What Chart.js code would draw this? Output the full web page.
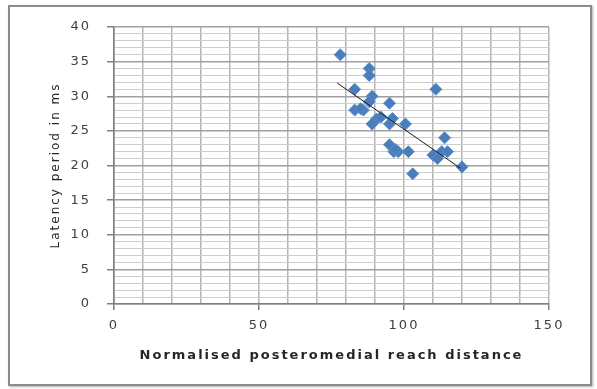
<!DOCTYPE html>
<html>
<head>
<meta charset="utf-8">
<script src="https://cdn.jsdelivr.net/npm/chart.js@4"></script>
<style>
    body { margin: 0; background: #ffffff; }
    #wrap { position: relative; width: 597px; height: 389px; }
    #frame {
        position: absolute; left: 8px; top: 5px; width: 580px; height: 377px;
        border: 2px solid #8c8c8c; box-shadow: 1px 1px 2px #b0b0b0; pointer-events: none;
    }
    canvas { position: absolute; left: 0; top: 0; }
</style>
</head>
<body>
<div id="wrap">
    <canvas id="latency_chart" width="597" height="389"></canvas>
    <div id="frame"></div>
</div>
<script>
// reach distance (x) and latency period in ms (y)
const reach = [78, 88, 88, 83, 111, 89, 88, 95, 83, 86, 90.5, 96, 89, 95, 100.5, 95, 96.5, 98, 101.5, 114, 113, 110, 111.5, 115, 120, 103, 92, 97, 85];
const latency = [36, 34, 33, 31, 31, 30, 29.2, 29, 28, 28, 26.7, 26.8, 26, 26, 26, 23, 22, 22, 22, 24, 22, 21.5, 21, 22, 19.8, 18.8, 27, 22.3, 28.2];

// trend line end points
const trend_x = [77, 119.5];
const trend_y = [31.9, 19.6];

const X_TICKS = [0, 50, 100, 150];
const Y_MAX = 40;

var points = [];
for (var i = 0; i < reach.length; i++) {
    points.push({ x: reach[i], y: latency[i] });
}
var trend_points = [];
for (var i = 0; i < trend_x.length; i++) {
    trend_points.push({ x: trend_x[i], y: trend_y[i] });
}

const tick_font = { family: 'DejaVu Sans', size: 13 };

// the original text is drawn wide, so space the letters out a little
const wide_text = {
    id: 'wide_text',
    beforeDraw: function (chart) { chart.ctx.letterSpacing = '2px'; },
    afterDraw: function (chart) { chart.ctx.letterSpacing = '0px'; }
};

new Chart(document.getElementById('latency_chart'), {
    type: 'scatter',
    data: {
        datasets: [{
            label: 'Latency',
            data: points,
            pointStyle: 'rectRot',
            pointRadius: 6,
            backgroundColor: '#4a7ebb',
            borderColor: '#5b8cc8',
            borderWidth: 1,
            order: 2
        }, {
            label: 'Trend',
            type: 'line',
            data: trend_points,
            borderColor: '#1a1a1a',
            borderWidth: 1,
            pointRadius: 0,
            order: 1
        }]
    },
    plugins: [wide_text],
    options: {
        responsive: false,
        animation: false,
        layout: { padding: { left: 48, top: 27, right: 48, bottom: 24 } },
        plugins: { legend: { display: false }, tooltip: { enabled: false } },
        scales: {
            x: {
                type: 'linear',
                min: 0,
                max: 150,
                ticks: {
                    stepSize: 10,
                    autoSkip: false,
                    maxRotation: 0,
                    color: '#404040',
                    font: tick_font,
                    padding: 8,
                    callback: function (v) { return X_TICKS.indexOf(v) >= 0 ? v : ''; }
                },
                grid: {
                    color: function (c) { return c.tick && c.tick.value === 0 ? '#808080' : '#b4b4b4'; },
                    lineWidth: 1.5,
                    tickLength: 6,
                    tickColor: function (c) { return c.tick && X_TICKS.indexOf(c.tick.value) >= 0 ? '#808080' : 'rgba(0,0,0,0)'; }
                },
                border: { color: '#808080', width: 1.5 },
                title: {
                    display: true,
                    text: 'Normalised posteromedial reach distance',
                    color: '#262626',
                    font: { family: 'DejaVu Sans', size: 13, weight: 'bold' },
                    padding: { top: 4, bottom: 2 }
                },
                afterFit: function (scale) { scale.height = 61; }
            },
            y: {
                min: 0,
                max: Y_MAX,
                ticks: {
                    stepSize: 1,
                    autoSkip: false,
                    color: '#404040',
                    font: tick_font,
                    padding: 16,
                    callback: function (v) { return v % 5 === 0 ? v : ''; }
                },
                grid: {
                    color: function (c) { return c.tick && c.tick.value % 5 === 0 ? '#a0a0a0' : '#cdcdcd'; },
                    lineWidth: function (c) { return c.tick && c.tick.value % 5 === 0 ? 1.5 : 1; },
                    tickLength: 7,
                    tickColor: function (c) { return c.tick && c.tick.value % 5 === 0 ? '#808080' : 'rgba(0,0,0,0)'; }
                },
                border: { color: '#808080', width: 1.5 },
                title: {
                    display: true,
                    text: 'Latency period in ms',
                    color: '#262626',
                    font: { family: 'DejaVu Sans', size: 12 },
                    padding: { top: 1, bottom: 4 }
                },
                afterFit: function (scale) { scale.width = 66; }
            }
        }
    }
});
</script>
</body>
</html>
